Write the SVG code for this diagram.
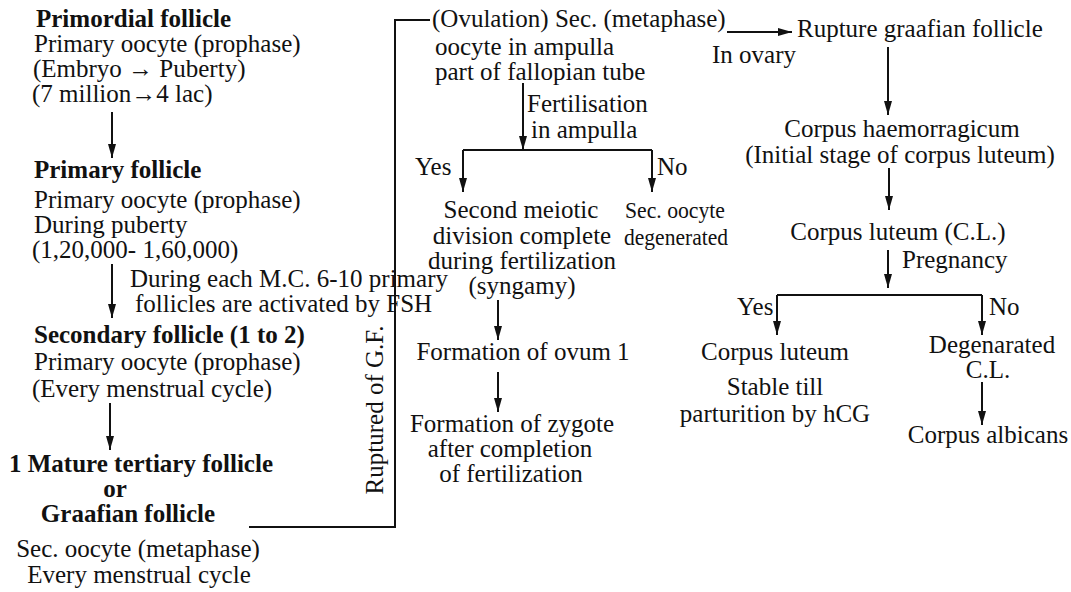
<svg xmlns="http://www.w3.org/2000/svg" width="1071" height="592" viewBox="0 0 1071 592">
<style>
text{font-family:"Liberation Serif","Times New Roman",serif;font-size:25px;fill:#111}
.b{font-weight:bold}
.m{text-anchor:middle}
.s{font-size:24px}
.c{fill:none;stroke:#111;stroke-width:2}
</style>
<defs>
<marker id="ah" viewBox="0 0 14 8" refX="14" refY="4" markerWidth="14" markerHeight="8" markerUnits="userSpaceOnUse" orient="auto">
<path d="M0,0 L14,4 L0,8 z" fill="#111"/>
</marker>
</defs>
<rect width="1071" height="592" fill="#fff"/>
<g id="connectors">
<path class="c" d="M112,112 V158" marker-end="url(#ah)"/>
<path class="c" d="M112,264 V318" marker-end="url(#ah)"/>
<path class="c" d="M110,403 V450" marker-end="url(#ah)"/>
<path class="c" d="M249,527 H395 V20 H430"/>
<path class="c" d="M523,83 V150" marker-end="url(#ah)"/>
<path class="c" d="M463,150 H652"/>
<path class="c" d="M463,150 V192" marker-end="url(#ah)"/>
<path class="c" d="M652,150 V192" marker-end="url(#ah)"/>
<path class="c" d="M498,300 V340" marker-end="url(#ah)"/>
<path class="c" d="M498,372 V412" marker-end="url(#ah)"/>
<path class="c" d="M727,32 H792" marker-end="url(#ah)"/>
<path class="c" d="M888,47 V115" marker-end="url(#ah)"/>
<path class="c" d="M889,168 V210" marker-end="url(#ah)"/>
<path class="c" d="M888,250 V288" marker-end="url(#ah)"/>
<path class="c" d="M777,295 H982"/>
<path class="c" d="M777,295 V335" marker-end="url(#ah)"/>
<path class="c" d="M982,295 V335" marker-end="url(#ah)"/>
<path class="c" d="M982,382 V425" marker-end="url(#ah)"/>
</g>
<g id="primordial">
<text class="b" x="36" y="27">Primordial follicle</text>
<text x="34" y="52">Primary oocyte (prophase)</text>
<text x="33" y="77">(Embryo → Puberty)</text>
<text x="32" y="102">(7 million→4 lac)</text>
</g>
<g id="primary">
<text class="b" x="34" y="178">Primary follicle</text>
<text x="34" y="208">Primary oocyte (prophase)</text>
<text x="34" y="233">During puberty</text>
<text x="32" y="258">(1,20,000- 1,60,000)</text>
</g>
<g id="activation-label">
<text x="130" y="287">During each M.C. 6-10 primary</text>
<text x="135" y="312">follicles are activated by FSH</text>
</g>
<g id="secondary">
<text class="b" x="34" y="343">Secondary follicle (1 to 2)</text>
<text x="34" y="370">Primary oocyte (prophase)</text>
<text x="32" y="397">(Every menstrual cycle)</text>
</g>
<g id="graafian">
<text class="b m" x="141" y="472">1 Mature tertiary follicle</text>
<text class="b m" x="115" y="497">or</text>
<text class="b m" x="128" y="522">Graafian follicle</text>
<text class="m" x="138" y="557">Sec. oocyte (metaphase)</text>
<text class="m" x="139" y="583">Every menstrual cycle</text>
</g>
<g id="ruptured-label">
<text class="m" transform="translate(383,410) rotate(-90)">Ruptured of G.F.</text>
</g>
<g id="ovulation">
<text x="432" y="27">(Ovulation) Sec. (metaphase)</text>
<text x="435" y="55">oocyte in ampulla</text>
<text x="435" y="80">part of fallopian tube</text>
</g>
<g id="fertilisation-label">
<text x="527" y="112">Fertilisation</text>
<text x="531" y="138">in ampulla</text>
<text x="415" y="175">Yes</text>
<text x="657" y="175">No</text>
</g>
<g id="second-meiotic">
<text class="m" x="521" y="218">Second meiotic</text>
<text class="m" x="522" y="244">division complete</text>
<text class="m" x="522" y="269">during fertilization</text>
<text class="m" x="522" y="294">(syngamy)</text>
</g>
<g id="degenerated">
<text class="s" x="625" y="218" textLength="100" lengthAdjust="spacingAndGlyphs">Sec. oocyte</text>
<text class="s" x="624" y="245" textLength="104" lengthAdjust="spacingAndGlyphs">degenerated</text>
</g>
<g id="ovum">
<text class="m" x="523" y="360">Formation of ovum 1</text>
</g>
<g id="zygote">
<text class="m" x="512" y="432">Formation of zygote</text>
<text class="m" x="510" y="457">after completion</text>
<text class="m" x="511" y="482">of fertilization</text>
</g>
<g id="in-ovary-label">
<text x="712" y="63">In ovary</text>
</g>
<g id="rupture">
<text x="797" y="37">Rupture graafian follicle</text>
</g>
<g id="haemorragicum">
<text class="m" x="902" y="137">Corpus haemorragicum</text>
<text class="m" x="900" y="163">(Initial stage of corpus luteum)</text>
</g>
<g id="corpus-luteum">
<text class="m" x="898" y="240">Corpus luteum (C.L.)</text>
</g>
<g id="pregnancy-label">
<text x="902" y="268">Pregnancy</text>
<text x="737" y="315">Yes</text>
<text x="989" y="315">No</text>
</g>
<g id="stable-cl">
<text class="m" x="775" y="360">Corpus luteum</text>
<text class="m" x="775" y="395">Stable till</text>
<text class="m" x="775" y="422">parturition by hCG</text>
</g>
<g id="degenerated-cl">
<text class="m" x="992" y="353">Degenarated</text>
<text class="m" x="988" y="378">C.L.</text>
</g>
<g id="albicans">
<text class="m" x="988" y="443">Corpus albicans</text>
</g>
</svg>
